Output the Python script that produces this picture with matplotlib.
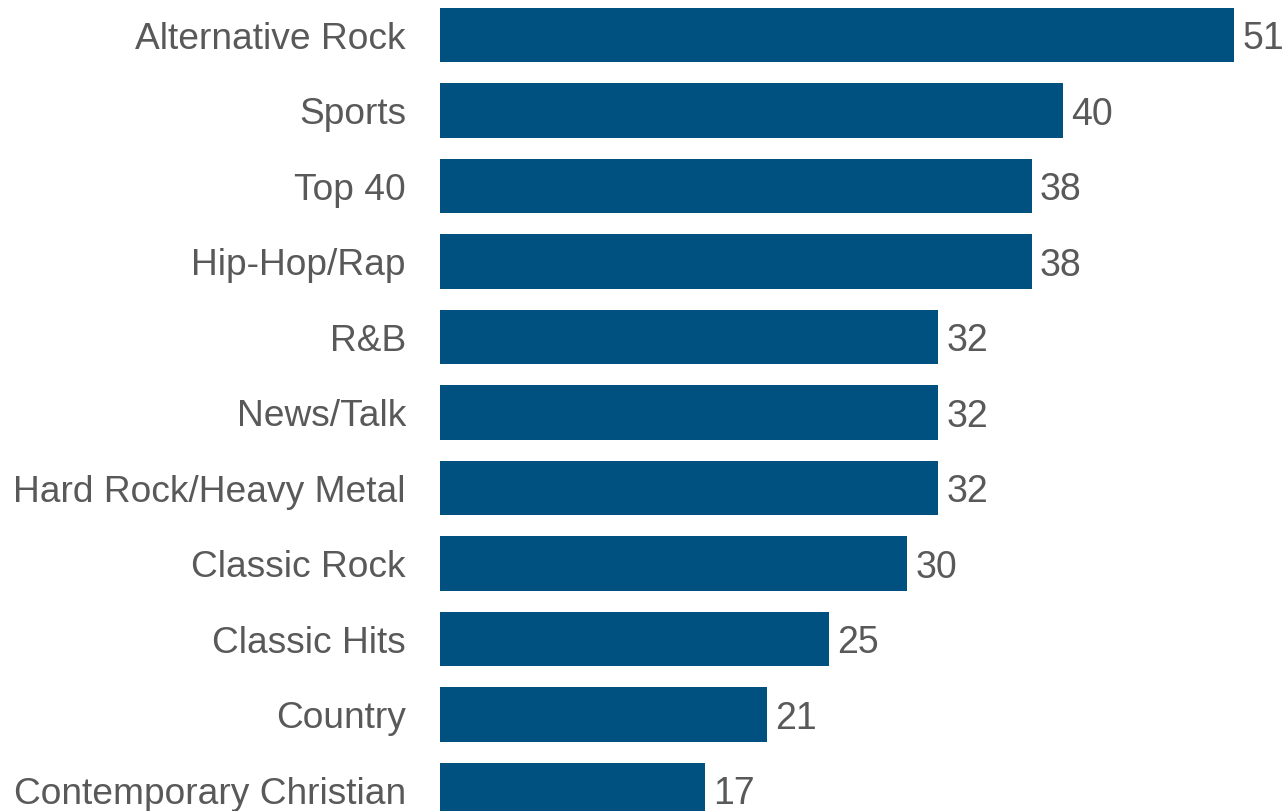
import matplotlib
matplotlib.use("Agg")
import matplotlib.pyplot as plt

categories = ["Alternative Rock", "Sports", "Top 40", "Hip-Hop/Rap", "R&B", "News/Talk",
              "Hard Rock/Heavy Metal", "Classic Rock", "Classic Hits", "Country",
              "Contemporary Christian"]
values = [51, 40, 38, 38, 32, 32, 32, 30, 25, 21, 17]

plt.rcParams['font.family'] = ['Liberation Sans', 'DejaVu Sans']
fig = plt.figure(figsize=(12.88, 8.11), dpi=100)
ax = fig.add_axes([440/1288, 0, 1 - 440/1288, 1])

pos = list(range(len(categories)))
ax.barh(pos, values, height=0.72, color="#00517F")
ax.set_ylim(10.278, -0.4636)
ax.set_xlim(0, 848/15.57)
ax.set_yticks(pos)
ax.set_yticklabels(categories, fontsize=26.7, color="#595959", va="center_baseline")
ax.tick_params(axis='y', length=0, pad=24.5)
ax.set_xticks([])
for s in ax.spines.values():
    s.set_visible(False)
for p, v in zip(pos, values):
    ax.annotate(str(v), (v, p), xytext=(6, 0), textcoords="offset points",
                va="center_baseline", ha="left", fontsize=27, color="#595959",
                annotation_clip=False)

fig.savefig("out.png", dpi=100)
